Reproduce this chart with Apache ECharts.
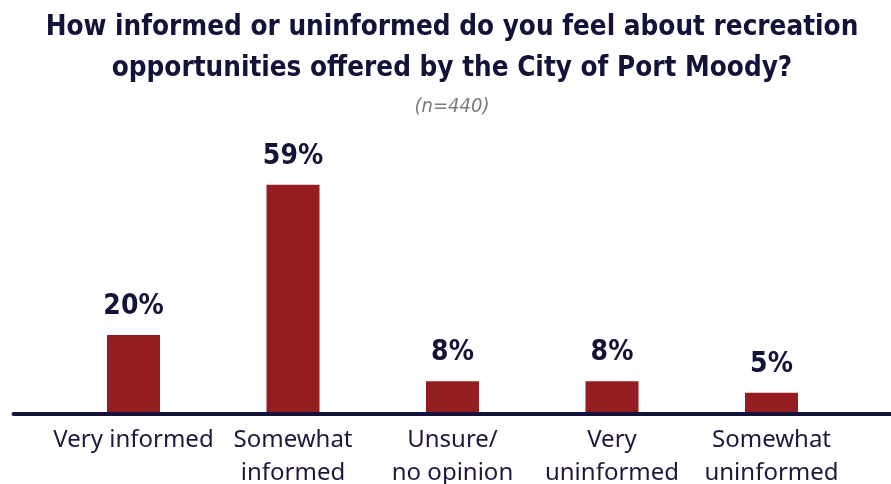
<!DOCTYPE html>
<html>
<head>
<meta charset="utf-8">
<script src="https://cdn.jsdelivr.net/npm/echarts@6/dist/echarts.min.js"></script>
<style>html,body{margin:0;padding:0;background:#fff}#c{width:891px;height:484px}</style>
</head>
<body>
<div id="c"></div>
<script>
const titleText = 'How informed or uninformed do you feel about recreation\nopportunities offered by the City of Port Moody?';
const subtitleText = '(n=440)';
const categories = ['Very informed', 'Somewhat\ninformed', 'Unsure/\nno opinion', 'Very\nuninformed', 'Somewhat\nuninformed'];
const values = [20, 59, 8, 8, 5];

const navy = '#13133a';
const cond = 'DejaVu Sans Condensed';
const chart = echarts.init(document.getElementById('c'), null, {renderer: 'canvas'});
chart.setOption({
  animation: false,
  backgroundColor: '#ffffff',
  title: [
    {
      text: titleText, left: 447, top: 2, textAlign: 'center',
      textStyle: {fontFamily: cond, fontWeight: 'bold', fontSize: 27.6, lineHeight: 41, color: navy}
    },
    {
      text: subtitleText, left: 447, top: 92, textAlign: 'center',
      textStyle: {fontFamily: cond, fontStyle: 'italic', fontWeight: 'normal', fontSize: 20, color: '#7a7a7a'}
    }
  ],
  grid: [
    {left: 53.75, width: 797.5, top: 181, bottom: 72, containLabel: false, outerBoundsMode: 'none'},
    {left: 13.5, right: 0, top: 181, bottom: 70, containLabel: false, outerBoundsMode: 'none'}
  ],
  xAxis: [
    {
      type: 'category', data: categories, gridIndex: 0,
      axisLine: {show: false}, axisTick: {show: false},
      axisLabel: {interval: 0, margin: 12, fontFamily: 'Noto Sans', fontSize: 24, lineHeight: 33, color: '#1a1a3c'}
    },
    {
      type: 'value', gridIndex: 1, min: 0, max: 1,
      axisLine: {show: true, lineStyle: {color: navy, width: 4}},
      axisTick: {show: false}, axisLabel: {show: false}, splitLine: {show: false}
    }
  ],
  yAxis: [
    {type: 'value', gridIndex: 0, min: 0, max: 60, show: false, splitLine: {show: false}},
    {type: 'value', gridIndex: 1, min: 0, max: 1, show: false, splitLine: {show: false}}
  ],
  series: [{
    type: 'bar', xAxisIndex: 0, yAxisIndex: 0,
    data: values, barWidth: 53,
    itemStyle: {color: '#951c21'},
    label: {
      show: true, position: 'top', distance: 14,
      formatter: p => p.value + '%',
      fontFamily: cond, fontWeight: 'bold', fontSize: 28, color: navy
    }
  }]
});
</script>
</body>
</html>
